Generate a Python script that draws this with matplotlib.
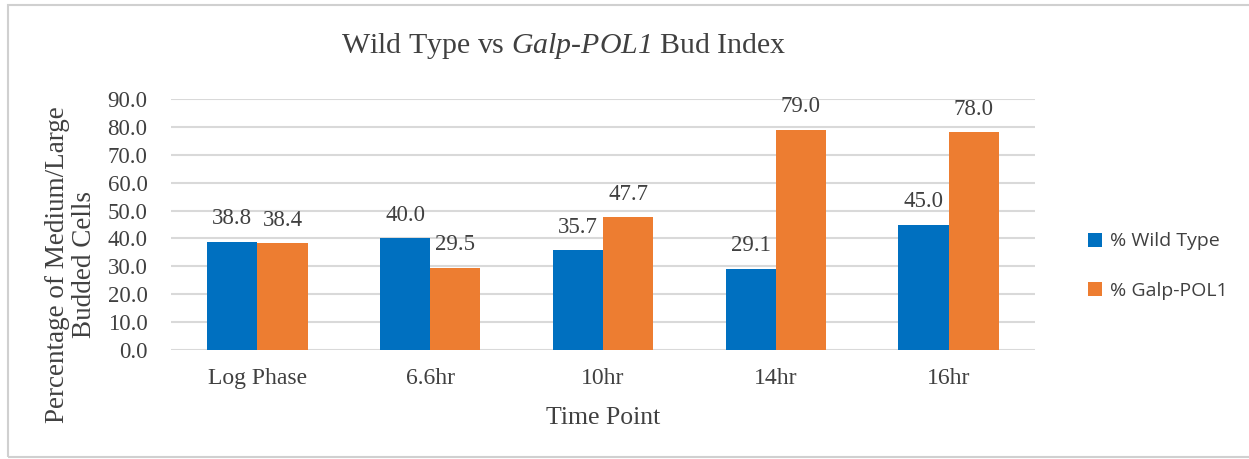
import matplotlib
matplotlib.use("Agg")
import matplotlib.pyplot as plt
from matplotlib.patches import Rectangle
import numpy as np

categories = ["Log Phase", "6.6hr", "10hr", "14hr", "16hr"]
wild_type = [38.8, 40.0, 35.7, 29.1, 45.0]
galp_pol1 = [38.4, 29.5, 47.7, 79.0, 78.0]
series_labels = ["% Wild Type", "% Galp-POL1"]
yticks = [0, 10, 20, 30, 40, 50, 60, 70, 80, 90]

blue = "#0070C0"
orange = "#ED7D31"
txt = "#404040"

plt.rcParams['mathtext.fontset'] = 'custom'
plt.rcParams['mathtext.it'] = 'Liberation Serif:italic'
plt.rcParams['mathtext.rm'] = 'Liberation Serif:italic'

W, H = 1249, 459
fig = plt.figure(figsize=(W/100, H/100), dpi=100)
serif = "Liberation Serif"

# outer frame
fig.patches.append(Rectangle((8/W, 1-457/H), 1.2, (457-5)/H, transform=fig.transFigure,
                             fill=False, edgecolor="#D0D0D0", linewidth=1.5))

ax = fig.add_axes([171/W, 1-350/H, (1035-171)/W, (350-99)/H])
x = np.arange(len(categories))
bw = 0.29
b1 = ax.bar(x - bw/2, wild_type, bw, color=blue, label=series_labels[0], zorder=3)
b2 = ax.bar(x + bw/2, galp_pol1, bw, color=orange, label=series_labels[1], zorder=3)

for bars, vals in ((b1, wild_type), (b2, galp_pol1)):
    for b, v in zip(bars, vals):
        ax.annotate(f"{v:.1f}", (b.get_x() + b.get_width()/2, v), xytext=(0, 12.5),
                    textcoords="offset points", ha="center", va="baseline",
                    fontsize=16.5, family=serif, color=txt, zorder=4)

ax.set_xlim(-0.5, len(categories) - 0.5)
ax.set_ylim(0, 90)
ax.set_yticks(yticks)
ax.set_yticklabels([f"{v:.1f}" for v in yticks], family=serif, fontsize=16.5, color=txt)
ax.set_xticks(x)
ax.set_xticklabels(categories, family=serif, fontsize=17, color=txt)
ax.tick_params(axis="both", length=0)
ax.tick_params(axis="y", pad=17)
ax.tick_params(axis="x", pad=13)
ax.grid(axis="y", color="#D9D9D9", linewidth=1.5, zorder=0)
for s in ax.spines.values():
    s.set_visible(False)

ax.set_xlabel("Time Point", family=serif, fontsize=18.5, color=txt, labelpad=13)
fig.text(71/W, 1-265/H, "Percentage of Medium/Large\nBudded Cells", rotation=90,
         ha="center", va="center", family=serif, fontsize=19.5, color=txt, linespacing=1.12)

fig.text(564/W, 1-46/H, r"Wild Type vs $Galp$-$POL1$ Bud Index",
         ha="center", va="center", family=serif, fontsize=21.5, color=txt)

leg = fig.legend(handles=[b1, b2], labels=series_labels, loc="center left",
                 bbox_to_anchor=(1070/W, 1-266/H), frameon=False,
                 prop={"family": "Open Sans", "size": 14}, handlelength=0.75, handleheight=0.75,
                 labelspacing=1.6, handletextpad=0.4)
for t in leg.get_texts():
    t.set_color(txt)

fig.savefig("out.png", dpi=100)
